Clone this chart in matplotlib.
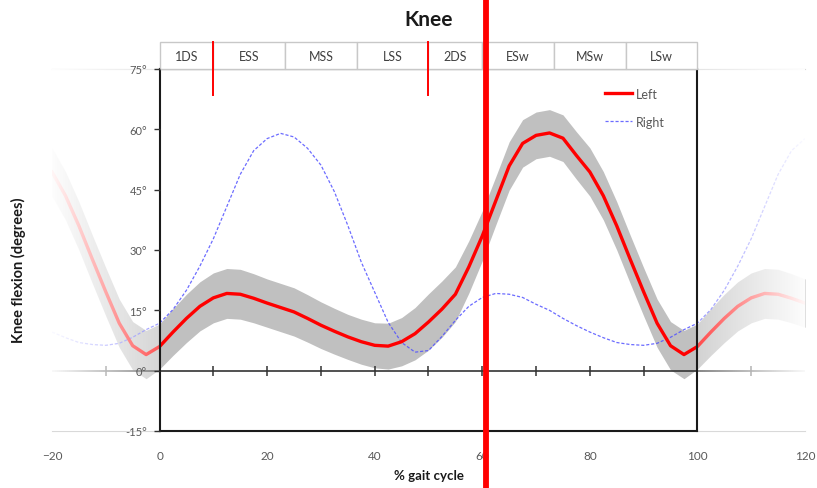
import numpy as np
import matplotlib
matplotlib.use('Agg')
import matplotlib.pyplot as plt
from matplotlib.transforms import blended_transform_factory

plt.rcParams['font.family'] = ['Lato', 'DejaVu Sans']

# % gait cycle, sampled every 2.5 %
pct = np.arange(0, 100.1, 2.5)

left_mean = [6.0, 9.6, 13.0, 16.0, 18.1, 19.2, 19.0, 18.0, 16.8, 15.7,
             14.6, 13.0, 11.3, 9.8, 8.4, 7.2, 6.3, 6.1, 7.2, 9.2,
             12.1, 15.3, 19.0, 25.8, 33.5, 42.2, 50.9, 56.5, 58.5, 59.1,
             57.8, 53.5, 49.4, 43.5, 36.0, 27.7, 19.6, 11.8, 6.2, 4.0,
             6.0]
left_sd = [5.6, 5.8, 6.0, 6.1, 6.2, 6.2, 6.2, 6.1, 6.0, 6.0,
           6.0, 5.9, 5.8, 5.7, 5.6, 5.6, 5.6, 5.7, 6.0, 6.5,
           7.0, 7.0, 6.8, 6.5, 6.2, 6.0, 6.0, 5.9, 5.8, 5.8,
           5.8, 5.9, 6.0, 6.0, 6.0, 6.0, 6.0, 6.0, 6.0, 6.0,
           5.6]
right_mean = [11.8, 15.2, 20.0, 26.0, 32.8, 40.8, 48.8, 54.7, 57.7, 59.0,
              58.1, 55.3, 51.1, 44.5, 36.1, 27.0, 19.5, 12.0, 7.0, 4.6,
              5.0, 8.5, 12.5, 16.0, 18.2, 19.2, 19.0, 18.2, 16.5, 15.0,
              13.0, 11.2, 9.6, 8.2, 7.0, 6.5, 6.3, 6.8, 8.3, 10.2,
              11.8]

phases = ['1DS', 'ESS', 'MSS', 'LSS', '2DS', 'ESw', 'MSw', 'LSw']
phase_edges = [0, 10, 23.3, 36.7, 50, 60, 73.3, 86.7, 100]
event_marks = [10, 50]
cursor = 60.7

yticks = [-15, 0, 15, 30, 45, 60, 75]
xticks = [-20, 0, 20, 40, 60, 80, 100, 120]
zero_ticks = [-10, 10, 20, 30, 40, 50, 60, 70, 80, 90, 110]


def wrap(x, v):
    # continue the cycle 20 % on both sides
    x = np.asarray(x, float)
    v = np.asarray(v, float)
    lo = x >= 80
    hi = x <= 20
    xs = np.concatenate([x[lo][:-1] - 100, x, x[hi][1:] + 100])
    vs = np.concatenate([v[lo][:-1], v, v[hi][1:]])
    return xs, vs


fig = plt.figure(figsize=(8.17, 4.89), dpi=100)
ax = fig.add_axes([52 / 817, 1 - 432 / 489, (805 - 52) / 817, (432 - 70) / 489])
tr_fig = blended_transform_factory(ax.transData, fig.transFigure)

gray_txt = '#595959'

xs, lm = wrap(pct, left_mean)
_, lsd = wrap(pct, left_sd)
_, rm = wrap(pct, right_mean)

ax.fill_between(xs, lm - lsd, lm + lsd, color='#c0c0c0', lw=0, zorder=1)
right_line, = ax.plot(xs, rm, color='#5252ff', lw=0.9, ls=(0, (2.5, 1.5)),
                      alpha=0.85, zorder=2, label='Right')
left_line, = ax.plot(xs, lm, color='#ff0000', lw=2.4, zorder=3, label='Left',
                     solid_joinstyle='round')

# faint lines beyond the box
ax.plot([-20, 120], [75, 75], color='#d9d9d9', lw=0.8, zorder=0.5, clip_on=False)
ax.plot([-20, 120], [-15, -15], color='#d9d9d9', lw=0.8, zorder=0.5, clip_on=False)
ax.plot([-20, 120], [0, 0], color='#333333', lw=1.2, zorder=1.5)
ax.plot(zero_ticks, [0] * len(zero_ticks), ls='none', marker='|', ms=7, mew=1.1,
        color='#333333', zorder=1.5)

# fade the wrapped parts
n = 200
img_l = np.ones((1, n, 4))
img_l[..., 3] = np.linspace(0.97, 0.35, n)
img_r = np.ones((1, n, 4))
img_r[..., 3] = np.linspace(0.3, 0.97, n)
ax.imshow(img_l, extent=(-20, 0, -20, 80), aspect='auto', zorder=4, interpolation='bilinear')
ax.imshow(img_r, extent=(100, 120, -20, 80), aspect='auto', zorder=4, interpolation='bilinear')

ax.set_xlim(-20, 120)
ax.set_ylim(-15, 75)

for s in ['top', 'bottom', 'left', 'right']:
    ax.spines[s].set_linewidth(1.5)
    ax.spines[s].set_color('#1a1a1a')
    ax.spines[s].set_zorder(5)
ax.spines['left'].set_position(('data', 0))
ax.spines['right'].set_position(('data', 100))
ax.spines['top'].set_bounds(0, 100)
ax.spines['bottom'].set_bounds(0, 100)
ax.spines['left'].set_bounds(-15, 75)
ax.spines['right'].set_bounds(-15, 75)

ax.set_yticks(yticks)
ax.set_yticklabels([f'{v}°' for v in yticks])
ax.set_xticks(xticks)
ax.tick_params(axis='y', length=4, width=1, color='#333333', labelsize=8,
               labelcolor=gray_txt, pad=5)
ax.tick_params(axis='x', length=0, labelsize=8.5, labelcolor=gray_txt, pad=14)
ax.xaxis.set_zorder(6)
ax.yaxis.set_zorder(6)

# phase bar
for i, name in enumerate(phases):
    x0, x1 = phase_edges[i], phase_edges[i + 1]
    ax.add_patch(plt.Rectangle((x0, 75), x1 - x0, 6.7, facecolor='white',
                               edgecolor='#c8c8c8', lw=1, clip_on=False, zorder=6))
    ax.text((x0 + x1) / 2, 78.3, name, ha='center', va='center', fontsize=9,
            color='#404040', clip_on=False, zorder=7)
for m in event_marks:
    ax.plot([m, m], [68.5, 81.7], color='#ff0000', lw=1.4, clip_on=False, zorder=8)

ax.plot([cursor, cursor], [0, 1], transform=tr_fig, color='#ff0000', lw=4.2,
        clip_on=False, zorder=9)

leg = ax.legend(handles=[left_line, right_line], loc='upper left',
                bbox_to_anchor=(82.8, 70.4), bbox_transform=ax.transData,
                frameon=False, fontsize=9, handlelength=2.2, handletextpad=0.3,
                labelspacing=1.3, borderpad=0, borderaxespad=0)
for t in leg.get_texts():
    t.set_color(gray_txt)
leg.set_zorder(8)

ax.text(50, 1 - 20 / 489, 'Knee', transform=tr_fig, ha='center', va='center',
        fontsize=15, fontweight='bold', color='#1a1a1a')
ax.text(50, 1 - 476 / 489, '% gait cycle', transform=tr_fig, ha='center',
        va='center', fontsize=9.5, fontweight='bold', color='#1a1a1a')
fig.text(18 / 817, 1 - 270 / 489, 'Knee flexion (degrees)', rotation=90,
         ha='center', va='center', fontsize=10.5, fontweight='bold', color='#1a1a1a')

fig.savefig('out.png', dpi=100)
